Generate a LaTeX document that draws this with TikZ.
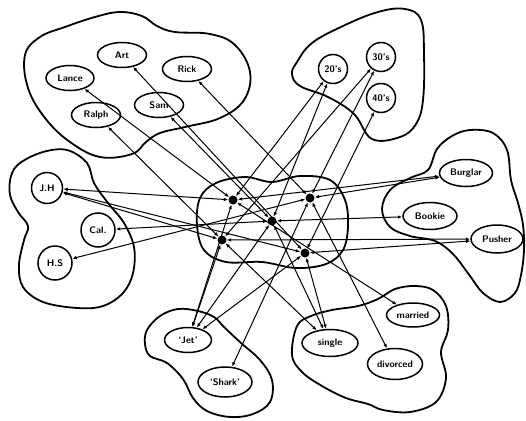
\documentclass[tikz,border=0pt]{standalone}
\usepackage{tikz}
\usetikzlibrary{arrows.meta,shapes.geometric,calc}

\begin{document}
\begin{tikzpicture}[
  x=1pt, y=-1pt,
  every node/.style={font=\sffamily\bfseries\fontsize{9.5}{10}\selectfont},
  oval/.style={draw, ellipse, line width=1.5pt, minimum width=49pt, minimum height=25pt, inner sep=0pt},
  disc/.style={draw, circle, line width=1.5pt, minimum size=29pt, inner sep=0pt},
  unit/.style={circle, fill, minimum size=9pt, inner sep=0pt},
  pool/.style={line width=1.8pt},
  link/.style={{Latex[length=4.5pt,width=3.5pt]}-{Latex[length=4.5pt,width=3.5pt]}, line width=1pt},
]
\useasboundingbox (0,0) rectangle (526,420);

% pools
\draw[pool] plot[smooth cycle, tension=0.65] coordinates {(25,55) (40,37) (65,27) (95,17) (120,12) (142,16) (157,26) (175,32) (210,34) (235,45) (250,72) (244,100) (220,118) (185,127) (160,133) (146,142) (132,154) (100,157) (70,142) (45,118) (28,88)};
\draw[pool] plot[smooth cycle, tension=0.65] coordinates {(297,62) (312,43) (343,26) (378,12) (405,9) (421,20) (424,55) (423,100) (416,124) (400,137) (372,139) (354,114) (328,97) (300,86) (292,74)};
\draw[pool] plot[smooth cycle, tension=0.6] coordinates {(20,163) (43,152) (67,150) (87,163) (94,183) (108,203) (124,223) (134,247) (133,273) (123,293) (103,306) (77,308) (43,302) (23,287) (19,265) (24,240) (28,226) (18,212) (10,195) (11,176)};
\draw[pool] plot[smooth cycle, tension=0.6] coordinates {(437,149) (452,136) (470,130) (493,133) (507,150) (511,180) (518,203) (523,225) (524,250) (521,275) (515,293) (500,302) (483,293) (470,276) (453,254) (435,241) (410,236) (390,227) (382,209) (390,190) (410,178) (428,170)};
\draw[pool] plot[smooth cycle, tension=0.6] coordinates {(147,330) (160,316) (178,309) (198,311) (214,317) (224,327) (241,343) (260,360) (272,380) (270,402) (253,414) (230,417) (207,411) (193,398) (183,379) (167,363) (150,356) (145,344)};
\draw[pool] plot[smooth cycle, tension=0.6] coordinates {(297,326) (311,316) (332,310) (358,306) (378,299) (395,289) (415,286) (433,290) (446,306) (448,330) (441,352) (446,378) (436,402) (410,412) (383,410) (368,404) (346,398) (322,386) (302,372) (292,355)};
\draw[pool] plot[smooth cycle, tension=0.6] coordinates {(200,198) (216,183) (245,177) (272,182) (300,176) (330,180) (345,200) (348,226) (343,250) (326,264) (296,268) (262,262) (226,262) (204,250) (197,225)};

% names
\node[oval] (art) at (122,55) {Art};
\node[oval] (rick) at (187,69) {Rick};
\node[oval, minimum width=48pt] (lance) at (70,78) {Lance};
\node[oval] (sam) at (159,105) {Sam};
\node[oval] (ralph) at (96,115) {Ralph};
% ages
\node[disc] (twenties) at (333,69) {20's};
\node[disc] (thirties) at (381,57) {30's};
\node[disc] (forties) at (381,98) {40's};
% education
\node[disc, minimum size=31pt] (jh) at (47,188) {J.H};
\node[disc, minimum size=34pt] (col) at (98,230) {Cal.};
\node[disc, minimum size=34pt] (hs) at (55,263) {H.S};
% occupation
\node[oval, minimum width=53pt, minimum height=27pt] (burglar) at (466,173) {Burglar};
\node[oval, minimum width=54pt, minimum height=27pt] (bookie) at (430,216) {Bookie};
\node[oval, minimum width=52pt, minimum height=28pt] (pusher) at (497,239) {Pusher};
% gang
\node[oval, minimum width=47pt] (jet) at (188,340) {`Jet'};
\node[oval, minimum width=54pt, minimum height=30pt] (shark) at (225,382) {`Shark'};
% marital status
\node[oval, minimum width=56pt, minimum height=27pt] (single) at (330,343) {single};
\node[oval, minimum width=53pt, minimum height=24pt] (married) at (413,315) {married};
\node[oval, minimum width=55pt, minimum height=31pt] (divorced) at (395,364) {divorced};

% instance units
\node[unit] (inst1) at (233,200) {};
\node[unit] (inst2) at (310,198) {};
\node[unit] (inst3) at (272,221) {};
\node[unit] (inst4) at (222,240) {};
\node[unit] (inst5) at (305,253) {};

\foreach \p in {lance,twenties,jh,married,burglar,jet}
  \draw[link] (\p) -- (inst1);
\foreach \p in {rick,thirties,hs,divorced,burglar,shark}
  \draw[link] (\p) -- (inst2);
\foreach \p in {sam,twenties,col,single,bookie,jet}
  \draw[link] (\p) -- (inst3);
\foreach \p in {ralph,thirties,jh,single,pusher,jet}
  \draw[link] (\p) -- (inst4);
\foreach \p in {art,forties,jh,single,pusher,jet}
  \draw[link] (\p) -- (inst5);
\end{tikzpicture}
\end{document}
